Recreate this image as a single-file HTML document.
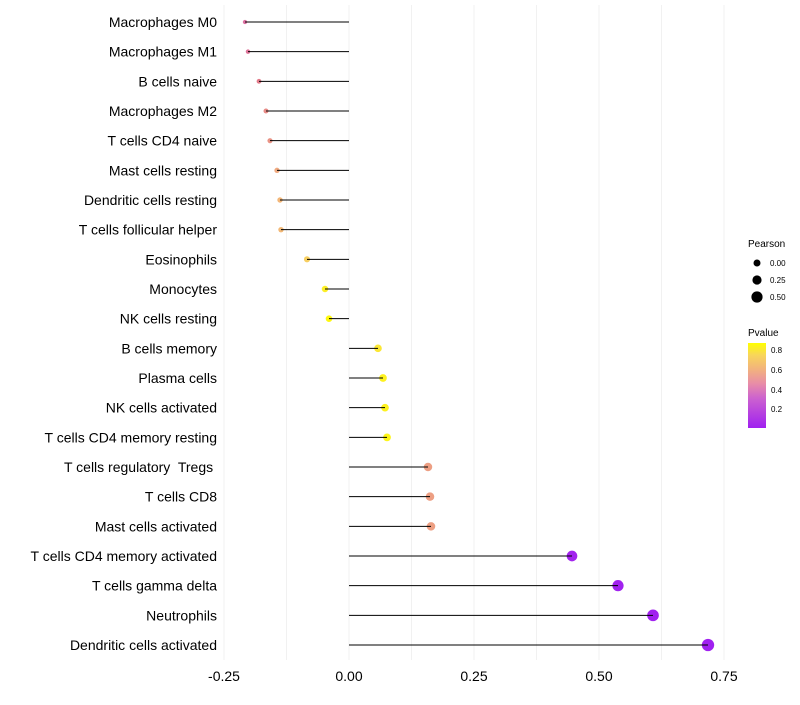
<!DOCTYPE html>
<html><head><meta charset="utf-8"><style>
body{margin:0;background:#fff;font-family:"Liberation Sans",sans-serif}
svg text{font-family:"Liberation Sans",sans-serif}
</style></head><body>
<svg id="chart" width="800" height="700" xmlns="http://www.w3.org/2000/svg">
<g id="grid"></g>
<g id="pts"></g>
<g id="marks"></g>
<g id="ylab"></g>
<g id="xlab"></g>
<g>
<text x="748" y="247" font-size="10">Pearson</text>
<circle cx="757" cy="263" r="3.5" fill="#000"/><text x="770" y="266" font-size="8">0.00</text>
<circle cx="757" cy="280" r="4.6" fill="#000"/><text x="770" y="283" font-size="8">0.25</text>
<circle cx="757" cy="297" r="5.6" fill="#000"/><text x="770" y="300" font-size="8">0.50</text>
</g>
<g>
<text x="748" y="336" font-size="10">Pvalue</text>
<defs><linearGradient id="pg" x1="0" y1="1" x2="0" y2="0">
<stop offset="0" stop-color="#a020f0"/><stop offset="0.35" stop-color="#cc62cf"/><stop offset="0.52" stop-color="#e88ca8"/><stop offset="0.69" stop-color="#f2b27e"/><stop offset="0.86" stop-color="#f8d65a"/><stop offset="1" stop-color="#ffff00"/></linearGradient></defs>
<rect x="748" y="343" width="18" height="85" fill="url(#pg)"/>
<text x="771" y="353" font-size="8">0.8</text><text x="771" y="373" font-size="8">0.6</text>
<text x="771" y="393" font-size="8">0.4</text><text x="771" y="412" font-size="8">0.2</text>
</g>
</svg>
<script>
const categories=["Macrophages M0","Macrophages M1","B cells naive","Macrophages M2","T cells CD4 naive","Mast cells resting","Dendritic cells resting","T cells follicular helper","Eosinophils","Monocytes","NK cells resting","B cells memory","Plasma cells","NK cells activated","T cells CD4 memory resting","T cells regulatory  Tregs ","T cells CD8","Mast cells activated","T cells CD4 memory activated","T cells gamma delta","Neutrophils","Dendritic cells activated"];
const pearson=[-0.208,-0.202,-0.18,-0.166,-0.158,-0.144,-0.138,-0.136,-0.084,-0.048,-0.04,0.058,0.068,0.072,0.076,0.158,0.162,0.164,0.446,0.538,0.608,0.718];
const pvalues=[0.4,0.42,0.46,0.5,0.52,0.58,0.62,0.63,0.72,0.82,0.85,0.8,0.83,0.83,0.84,0.55,0.55,0.55,0.02,0.01,0.005,0.001];
const xTicks=[-0.25,0,0.25,0.5,0.75];
const xTickLabels=["-0.25","0.00","0.25","0.50","0.75"];
const NS="http://www.w3.org/2000/svg";
const x=v=>349+500*v;
const y=i=>22+i*(623/21);
const r=v=>Math.sqrt(Math.max(1.5,12.25+36*v));
const stops=[[0,[160,32,240]],[0.3,[204,98,207]],[0.45,[226,120,140]],[0.6,[242,178,126]],[0.75,[248,214,90]],[0.87,[255,255,0]]];
function col(p){p=Math.min(0.87,Math.max(0,p));for(let k=1;k<stops.length;k++){if(p<=stops[k][0]){const a=stops[k-1],b=stops[k],t=(p-a[0])/(b[0]-a[0]);return "rgb("+a[1].map((c,j)=>Math.round(c+(b[1][j]-c)*t)).join(",")+")";}}return "rgb(255,255,0)";}
function mk(tag,at,parent){const e=document.createElementNS(NS,tag);for(const k in at)e.setAttribute(k,at[k]);parent.appendChild(e);return e;}
const grid=document.getElementById('grid');
for(let v=-0.25;v<=0.751;v+=0.125){const g=mk('line',{x1:x(v),x2:x(v),y1:5,y2:660,stroke:'#f1f1f1','stroke-width':1},grid);

}
const marks=document.getElementById('marks'),pts=document.getElementById('pts'),ylab=document.getElementById('ylab'),xlab=document.getElementById('xlab');
categories.forEach((c,i)=>{
const pt=mk('circle',{cx:x(pearson[i]),cy:y(i),r:r(pearson[i]),fill:col(pvalues[i])},pts);


const ln=mk('line',{x1:x(0),x2:x(pearson[i]),y1:y(i),y2:y(i),stroke:'#000','stroke-width':1},marks);


const t=mk('text',{x:217,y:y(i)+5,'text-anchor':'end','font-size':14,fill:'#000'},ylab);t.textContent=c;
t.setAttribute('xml:space','preserve');t.style.whiteSpace='pre';


});
xTicks.forEach((v,i)=>{const t=mk('text',{x:x(v),y:681,'text-anchor':'middle','font-size':14,fill:'#000'},xlab);t.textContent=xTickLabels[i];

});
</script>
</body></html>
